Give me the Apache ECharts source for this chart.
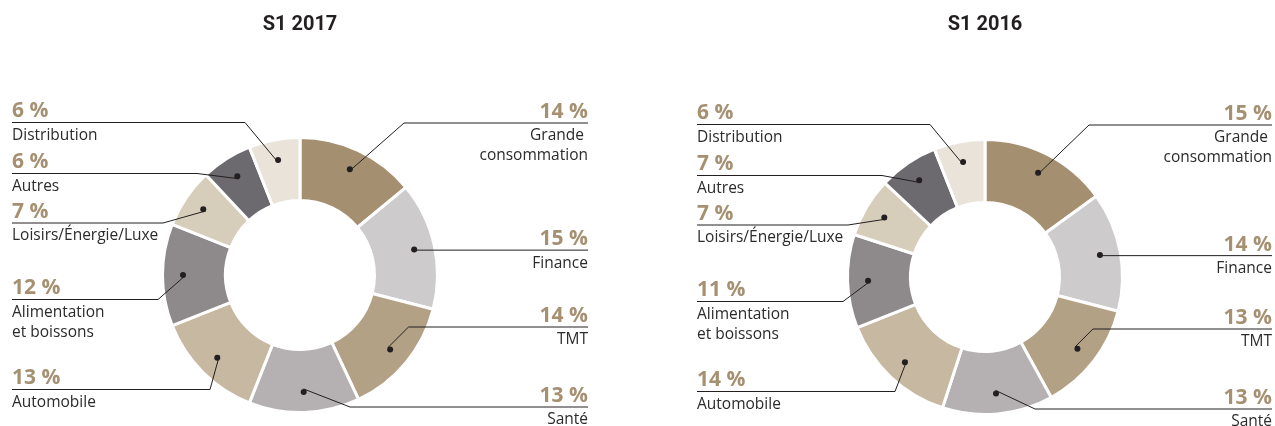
<!DOCTYPE html>
<html>
<head>
<meta charset="utf-8">
<script src="https://cdn.jsdelivr.net/npm/echarts@6/dist/echarts.min.js"></script>
<style>
    html, body { margin: 0; padding: 0; background: #fff; }
    #main { width: 1275px; height: 426px; }
</style>
</head>
<body>
<div id="main"></div>
<script>
let sectors = ['Grande \nconsommation', 'Finance', 'TMT', 'Santé', 'Automobile',
    'Alimentation\net boissons', 'Loisirs/Énergie/Luxe', 'Autres', 'Distribution'];
let share2017 = [14, 15, 14, 13, 13, 12, 7, 6, 6];
let share2016 = [15, 14, 13, 13, 14, 11, 7, 7, 6];
let periods = ['S1 2017', 'S1 2016'];

let colors = ['#a48f71', '#cdcbcc', '#b3a186', '#b5b1b2', '#c6b8a1',
    '#8e898b', '#d7cdbb', '#6c6a6f', '#e9e3da'];

// where the labels sit, relative to each donut centre (null = level with the dot)
let ruleDy = [-152, null, 52, 132, 114.5, 24.5, -52, -101.5, -152.5];
let kneeDx = [104, null, null, 50, -90, -142, -137, -103, -55];
let side = [1, 1, 1, 1, -1, -1, -1, -1, -1];

let donuts = [
    { cx: 300, cy: 275, textLeft: 12, textRight: 588, values: share2017 },
    { cx: 985, cy: 277, textLeft: 697, textRight: 1272, values: share2016 }
];
let dotR = 114;
let font = '"Open Sans", sans-serif';
let ink = '#231f20';

let myChart = echarts.init(document.getElementById('main'), null, { renderer: 'canvas' });

// dot position = slice middle at radius dotR, same way the pie lays it out
let dotPos = (d, idx) => {
    let total = d.values.reduce((a, b) => a + b, 0);
    let cum = 0;
    for (let i = 0; i < idx; i++) cum += d.values[i];
    let mid = -Math.PI / 2 + 2 * Math.PI * (cum + d.values[idx] / 2) / total;
    return [d.cx + dotR * Math.cos(mid), d.cy + dotR * Math.sin(mid)];
};

let placeLabel = d => params => {
    let i = params.dataIndex;
    let dot = dotPos(d, i);
    let ruleY = ruleDy[i] == null ? dot[1] : d.cy + ruleDy[i];
    let knee = kneeDx[i] == null
        ? dot[0] + side[i] * Math.abs(ruleY - dot[1])
        : d.cx + kneeDx[i];
    let endX = side[i] > 0 ? d.textRight : d.textLeft;
    return {
        x: endX,
        y: ruleY - 25,
        align: side[i] > 0 ? 'right' : 'left',
        verticalAlign: 'top',
        labelLinePoints: [dot, [knee, ruleY], [endX, ruleY]]
    };
};

let base = d => ({
    type: 'pie',
    center: [d.cx, d.cy],
    radius: [74.5, 137.5],
    startAngle: 90,
    clockwise: true,
    avoidLabelOverlap: false,
    animation: false,
    emphasis: { disabled: true }
});

// coloured ring, kept underneath
let ringSeries = d => ({
    ...base(d),
    z: 1,
    itemStyle: { borderColor: '#fff', borderWidth: 3 },
    data: sectors.map((s, i) => ({ name: s, value: d.values[i], itemStyle: { color: colors[i] } })),
    label: { show: false },
    labelLine: { show: false }
});

// invisible copy on top, carrying the text and leader lines
let labelSeries = d => ({
    ...base(d),
    z: 3,
    silent: true,
    itemStyle: { color: 'rgba(0,0,0,0)' },
    data: sectors.map((s, i) => ({ name: s, value: d.values[i] })),
    label: {
        show: true,
        position: 'outside',
        formatter: p => '{p|' + p.value + ' %}\n' +
            p.name.split('\n').map(t => '{n|' + t + '}').join('\n'),
        rich: {
            p: { fontFamily: font, fontWeight: 'bold', fontSize: 21, color: '#a69072', lineHeight: 28 },
            n: { fontFamily: font, fontSize: 15.5, color: '#2b2b2b', lineHeight: 20 }
        }
    },
    labelLine: { show: true, smooth: false, lineStyle: { color: ink, width: 1 } },
    labelLayout: placeLabel(d)
});

let dotSeries = d => ({
    ...base(d),
    z: 4,
    radius: [dotR - 22, dotR + 22],
    silent: true,
    itemStyle: { color: 'rgba(0,0,0,0)' },
    data: sectors.map((s, i) => ({ name: s, value: d.values[i] })),
    label: {
        show: true,
        position: 'inside',
        formatter: '{d| }',
        rich: { d: { width: 6, height: 6, lineHeight: 6, fontSize: 1, borderRadius: 3, backgroundColor: ink } }
    },
    labelLine: { show: false }
});

let option = {
    backgroundColor: '#fff',
    graphic: periods.map((t, i) => ({
        type: 'text',
        x: donuts[i].cx,
        y: 25,
        style: {
            text: t,
            align: 'center', verticalAlign: 'middle',
            textAlign: 'center', textVerticalAlign: 'middle',
            font: 'bold 20px Roboto, sans-serif',
            fill: ink
        }
    })),
    series: [...donuts.map(ringSeries), ...donuts.map(labelSeries), ...donuts.map(dotSeries)]
};

myChart.setOption(option);
</script>
</body>
</html>
